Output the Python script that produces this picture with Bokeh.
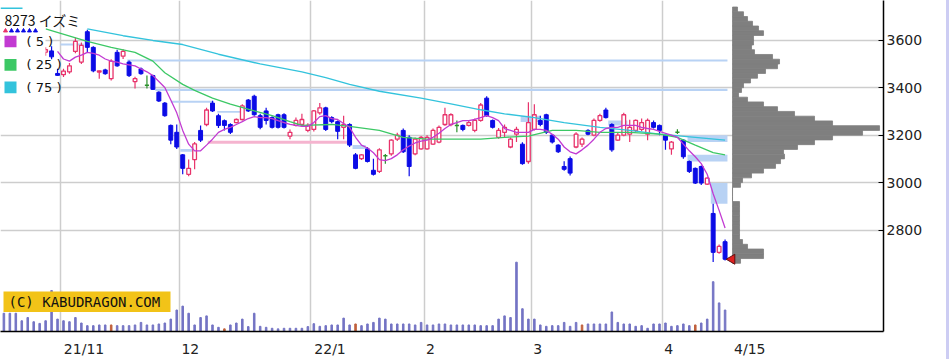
import math
from bokeh.plotting import figure
from bokeh.models import Range1d, FixedTicker, CustomJSTickFormatter
from bokeh.embed import file_html
from bokeh.resources import INLINE
from bokeh.core.properties import value

# ---------------- data ----------------
trading_days = [
    (2021, 10, [18, 19, 20, 21, 22, 25, 26, 27, 28, 29]),
    (2021, 11, [1, 2, 4, 5, 8, 9, 10, 11, 12, 15, 16, 17, 18, 19, 22, 24, 25, 26, 29, 30]),
    (2021, 12, [1, 2, 3, 6, 7, 8, 9, 10, 13, 14, 15, 16, 17, 20, 21, 22, 23, 24, 27, 28, 29, 30]),
    (2022, 1, [4, 5, 6, 7, 11, 12, 13, 14, 17, 18, 19, 20, 21, 24, 25, 26, 27, 28, 31]),
    (2022, 2, [1, 2, 3, 4, 7, 8, 9, 10, 14, 15, 16, 17, 18, 21, 22, 24, 25, 28]),
    (2022, 3, [1, 2, 3, 4, 7, 8, 9, 10, 11, 14, 15, 16, 17, 18, 22, 23, 24, 25, 28, 29, 30, 31]),
    (2022, 4, [1, 4, 5, 6, 7, 8, 11, 12, 13, 14, 15]),
]

opens = [3600, 3590, 3575, 3580, 3600, 3560, 3545, 3550, 3555, 3460,
         3455, 3467, 3553, 3508, 3636, 3570, 3466, 3475, 3438, 3549,
         3533, 3508, 3426, 3479, 3410, 3451, 3381, 3335, 3241, 3212,
         3117, 3035, 3097, 3220, 3245, 3335, 3282, 3261, 3245, 3253,
         3266, 3348, 3364, 3282, 3302, 3274, 3286, 3286, 3196, 3241,
         3245, 3220, 3224, 3294, 3315, 3274, 3257, 3233, 3245, 3117,
         3101, 3142, 3052, 3047, 3113, 3121, 3183, 3220, 3191, 3121,
         3142, 3142, 3162, 3171, 3245, 3245, 3241, 3241, 3241, 3220,
         3262, 3356, 3262, 3191, 3212, 3150, 3204, 3162, 3089, 3224,
         3262, 3286, 3200, 3158, 3068, 3101, 3150, 3162, 3220, 3200,
         3262, 3306, 3245, 3179, 3200, 3204, 3220, 3224, 3204, 3253,
         3241, 3200, 3142, 3212, 3179, 3089, 3060, 3068, 2994, 2870,
         2706, 2751]
highs = [3630, 3610, 3600, 3620, 3610, 3580, 3575, 3570, 3575, 3480,
         3480, 3504, 3612, 3590, 3644, 3575, 3473, 3480, 3520, 3560,
         3562, 3515, 3446, 3485, 3451, 3455, 3385, 3340, 3245, 3245,
         3121, 3097, 3171, 3241, 3315, 3345, 3290, 3266, 3250, 3270,
         3330, 3352, 3370, 3290, 3315, 3280, 3290, 3292, 3224, 3274,
         3290, 3250, 3306, 3335, 3320, 3280, 3262, 3282, 3250, 3125,
         3121, 3150, 3101, 3145, 3121, 3183, 3210, 3228, 3200, 3190,
         3196, 3200, 3228, 3241, 3315, 3292, 3262, 3245, 3262, 3270,
         3335, 3364, 3266, 3230, 3245, 3190, 3235, 3170, 3339, 3330,
         3282, 3290, 3205, 3162, 3090, 3110, 3212, 3190, 3225, 3270,
         3290, 3315, 3250, 3210, 3294, 3265, 3266, 3270, 3270, 3262,
         3245, 3205, 3175, 3225, 3183, 3093, 3064, 3072, 3023, 2911,
         2739, 2760]
lows = [3580, 3560, 3550, 3570, 3560, 3530, 3530, 3535, 3520, 3450,
        3445, 3459, 3545, 3500, 3550, 3465, 3438, 3455, 3430, 3488,
        3521, 3445, 3397, 3455, 3397, 3390, 3340, 3278, 3162, 3142,
        3035, 3027, 3056, 3171, 3238, 3298, 3230, 3220, 3205, 3250,
        3262, 3298, 3282, 3225, 3245, 3228, 3228, 3228, 3183, 3236,
        3240, 3212, 3215, 3286, 3218, 3250, 3183, 3183, 3150, 3056,
        3095, 3085, 3030, 3040, 3080, 3113, 3175, 3125, 3027, 3115,
        3138, 3138, 3158, 3166, 3240, 3238, 3212, 3216, 3236, 3212,
        3257, 3278, 3228, 3185, 3191, 3145, 3171, 3075, 3080, 3220,
        3238, 3205, 3165, 3125, 3050, 3030, 3145, 3150, 3200, 3195,
        3257, 3270, 3130, 3175, 3195, 3171, 3212, 3216, 3179, 3228,
        3200, 3138, 3117, 3205, 3101, 3040, 2994, 2990, 2990, 2665,
        2700, 2672]
closes = [3590, 3570, 3585, 3605, 3565, 3545, 3560, 3560, 3530, 3452,
          3470, 3492, 3595, 3578, 3570, 3471, 3471, 3459, 3512, 3492,
          3553, 3451, 3438, 3459, 3410, 3393, 3344, 3282, 3179, 3150,
          3060, 3060, 3163, 3179, 3306, 3302, 3241, 3241, 3212, 3266,
          3323, 3302, 3286, 3233, 3262, 3233, 3233, 3233, 3212, 3262,
          3266, 3241, 3302, 3315, 3224, 3257, 3216, 3245, 3158, 3060,
          3117, 3089, 3035, 3138, 3113, 3179, 3200, 3130, 3068, 3183,
          3191, 3191, 3220, 3233, 3286, 3286, 3241, 3224, 3253, 3262,
          3327, 3282, 3233, 3220, 3233, 3183, 3224, 3080, 3253, 3286,
          3245, 3212, 3171, 3130, 3056, 3040, 3204, 3183, 3204, 3262,
          3282, 3274, 3138, 3200, 3286, 3233, 3262, 3253, 3262, 3233,
          3220, 3179, 3171, 3212, 3109, 3047, 2998, 2998, 3019, 2706,
          2731, 2677]
# daily volume, thousand shares
volumes = [187, 187, 187, 110, 143, 100, 83, 110, 420, 127,
           110, 100, 143, 87, 60, 60, 67, 67, 67, 60,
           60, 60, 67, 93, 67, 67, 77, 87, 127, 220,
           260, 187, 67, 143, 160, 67, 43, 27, 67, 87,
           127, 50, 187, 53, 43, 33, 27, 33, 33, 33,
           33, 50, 80, 53, 60, 67, 67, 137, 67, 77,
           60, 77, 93, 137, 127, 77, 77, 77, 77, 67,
           93, 67, 67, 77, 77, 67, 67, 67, 67, 67,
           60, 60, 60, 127, 160, 143, 710, 233, 127, 127,
           67, 53, 60, 60, 93, 53, 93, 67, 77, 77,
           77, 77, 200, 93, 77, 77, 53, 60, 33, 77,
           77, 87, 53, 60, 77, 60, 67, 87, 127, 510,
           293, 220]
vol_red_days = [18, 37, 59, 97, 116]

# moving averages (day index, price)
ma5_idx = list(range(9, 122))
ma5 = [3553, 3521, 3512, 3529, 3537, 3549, 3545, 3537, 3521, 3512,
       3508, 3500, 3496, 3492, 3479, 3467, 3451, 3426, 3401, 3348,
       3294, 3220, 3162, 3134, 3134, 3158, 3183, 3212, 3224, 3233,
       3245, 3257, 3270, 3278, 3274, 3274, 3270, 3261, 3253, 3245,
       3241, 3237, 3237, 3253, 3278, 3282, 3270, 3266, 3249, 3233,
       3191, 3158, 3146, 3126, 3097, 3093, 3101, 3117, 3138, 3154,
       3167, 3175, 3179, 3191, 3208, 3228, 3245, 3253, 3261, 3261,
       3266, 3274, 3282, 3274, 3261, 3228, 3220, 3212, 3212, 3212,
       3224, 3224, 3220, 3204, 3183, 3150, 3130, 3121, 3138, 3158,
       3183, 3212, 3228, 3233, 3233, 3241, 3241, 3241, 3233, 3228,
       3224, 3216, 3208, 3200, 3191, 3162, 3134, 3109, 3080, 3035,
       2953, 2883, 2809]
ma25_idx = [7, 14, 18, 22, 25, 27, 30, 32, 35, 38, 42, 45, 48, 50, 55, 58, 63, 67,
            71, 77, 80, 84, 88, 92, 96, 100, 105, 110, 113, 116, 119, 121]
ma25 = [3648, 3595, 3570, 3549, 3512, 3463, 3414, 3389, 3356, 3331, 3302, 3282,
        3257, 3241, 3245, 3237, 3220, 3191, 3183, 3183, 3183, 3191, 3196, 3220,
        3220, 3212, 3212, 3204, 3191, 3158, 3126, 3117]
ma75_idx = [14, 20, 25, 30, 36, 43, 50, 54, 58, 63, 70, 75, 80, 84, 89, 94, 100,
            105, 110, 116, 121]
ma75 = [3648, 3619, 3599, 3582, 3541, 3500, 3467, 3442, 3414, 3385, 3356, 3332,
        3307, 3290, 3274, 3253, 3233, 3220, 3204, 3191, 3179]

# price gaps (windows): start index, end index, low, high
win_start = [9.5, 20.7, 25.4, 28.0, 35.8, 29.6, 58.5, 86.7, 101.4, 114.7, 114.7, 118.6]
win_end = [13.4, 121.4, 121.4, 35.2, 40.2, 31.8, 60.7, 90.1, 104.6, 121.4, 121.4, 121.4]
win_low = [3578, 3510, 3386, 3337, 3294, 3130, 3142, 3255, 3241, 3171, 3089, 2911]
win_high = [3586, 3519, 3396, 3345, 3302, 3142, 3158, 3282, 3262, 3200, 3117, 2998]
pink_start, pink_end, pink_low, pink_high = [34.2], [57.7], [3164], [3176]

# volume by price (thousand shares), 20-yen bins
profile_price = list(range(2670, 3750, 20))
profile_vol = [480, 1860, 1860, 900, 600, 420, 420, 420, 420, 420,
               420, 420, 420, 0, 0, 0, 480, 600, 1140, 1860,
               2580, 2880, 3120, 3060, 3900, 4920, 6000, 7800, 8820, 6000,
               4920, 3720, 2700, 1860, 900, 360, 540, 660, 1080, 1500,
               1980, 2700, 2820, 2400, 1320, 1140, 1260, 1260, 1860, 1560,
               1200, 900, 660, 300]

price_ticks = [2800, 3000, 3200, 3400, 3600]
title_text = "8273 イズミ"
ma_labels = ["( 5 )", "( 25 )", "( 75 )"]
credit = "(C) KABUDRAGON.COM"

# ---------------- layout constants ----------------
W, H = 949, 359
FW, FH = 883, 339                     # frame size in px
X0, X1 = -0.57, 147.58
Y0, Y1 = 2372.5, 3767.5


def px_x(px):
    return X0 + px * (X1 - X0) / FW


def px_y(py):
    return Y1 - py * (Y1 - Y0) / FH


UP = "#e8336b"
DOWN = "#0b0be6"
DOJI = "#2a902a"
C5 = "#c23ad2"
C25 = "#3cc865"
C75 = "#33c3dc"
VOL = "#7474c4"
VOLR = "#c0603c"
WIN = "#b8d2f4"
PINK = "#f5b4cf"
PROF = "#7f7f7f"
GRID = "#cdcdcd"

dates = []
for (yy, mm, days) in trading_days:
    for d in days:
        dates.append((yy, mm, d))
n = len(dates)
idx = list(range(n))

p = figure(width=W, height=H, x_range=Range1d(X0, X1), y_range=Range1d(Y0, Y1),
           output_backend="svg", toolbar_location=None, y_axis_location="right",
           min_border_left=0, min_border_top=0, min_border_right=W - FW,
           min_border_bottom=H - FH, background_fill_color="white",
           border_fill_color="white", outline_line_color=None)
p.styles = {"border-right": "3px solid #cdcdf3"}
p.extra_y_ranges = {"vol": Range1d(0, FH * 10)}

# grids
month_grid = []
labels_pos, labels_txt = [], []
for i in range(1, n):
    if dates[i][1] != dates[i - 1][1]:
        month_grid.append(i - 0.5)
        yy, mm, _ = dates[i]
        txt = f"{yy % 100}/{mm}" if (mm == 1 or not labels_txt) else f"{mm}"
        labels_txt.append(txt)
        labels_pos.append(i - 0.5 + (2 + 4.3 * len(txt)) / 5.96)
last_txt = f"{dates[-1][1]}/{dates[-1][2]}"
labels_txt.append(last_txt)
labels_pos.append(n - 1 + 0.75 + (3 + 4.3 * len(last_txt)) / 5.96)

p.xgrid.ticker = FixedTicker(ticks=month_grid)
p.ygrid.ticker = FixedTicker(ticks=price_ticks)
for g in (p.xgrid, p.ygrid):
    g.grid_line_color = GRID
    g.grid_line_width = 1.5

# x axis
xa = p.xaxis[0]
xa.ticker = FixedTicker(ticks=labels_pos)
xa.formatter = CustomJSTickFormatter(args=dict(pos=labels_pos, txt=labels_txt), code="""
let b = 0, d = 1e9;
for (let k = 0; k < pos.length; k++) { const dd = Math.abs(pos[k] - tick); if (dd < d) { d = dd; b = k; } }
return txt[b];
""")
xa.major_tick_line_color = None
xa.minor_tick_line_color = None
xa.axis_line_color = "black"
xa.axis_line_width = 1.5
xa.major_label_text_font = "DejaVu Sans"
xa.major_label_text_font_size = "14px"
xa.major_label_text_color = "#222222"
xa.major_label_standoff = 3

ya = p.yaxis[0]
ya.ticker = FixedTicker(ticks=price_ticks)
ya.major_tick_in = 5
ya.major_tick_out = 0
ya.major_tick_line_color = "black"
ya.minor_tick_line_color = None
ya.axis_line_color = "black"
ya.axis_line_width = 1.5
ya.major_label_text_font = "DejaVu Sans"
ya.major_label_text_font_size = "14px"
ya.major_label_text_color = "#222222"
ya.major_label_standoff = 3

# gap windows
p.quad(left=win_start, right=win_end, bottom=win_low, top=win_high,
       fill_color=WIN, line_color=None)
p.quad(left=pink_start, right=pink_end, bottom=pink_low, top=pink_high,
       fill_color=PINK, line_color=None)

# volume
vcol = [VOLR if i in vol_red_days else VOL for i in idx]
p.vbar(x=idx, top=volumes, bottom=0, width=0.26, color=vcol, y_range_name="vol")

# volume profile
pl = n + 0.25
scale = 1.0 / (60 * 5.96)
p.hbar(y=profile_price, height=20, left=pl,
       right=[pl + v * scale for v in profile_vol], fill_color=PROF,
       line_color=PROF, line_width=0.8)

# candles
up = [i for i in idx if closes[i] > opens[i]]
dn = [i for i in idx if closes[i] < opens[i]]
dj = [i for i in idx if closes[i] == opens[i]]
wcol = [UP if closes[i] > opens[i] else (DOWN if closes[i] < opens[i] else DOJI) for i in idx]
p.segment(x0=idx, y0=lows, x1=idx, y1=highs, line_color=wcol, line_width=1.2)
p.vbar(x=dn, width=0.66, top=[opens[i] for i in dn], bottom=[closes[i] for i in dn],
       fill_color=DOWN, line_color=DOWN, line_width=1)
p.vbar(x=up, width=0.62, top=[closes[i] for i in up], bottom=[opens[i] for i in up],
       fill_color="white", line_color=UP, line_width=1.3)
p.segment(x0=[i - 0.35 for i in dj], y0=[opens[i] for i in dj],
          x1=[i + 0.35 for i in dj], y1=[opens[i] for i in dj], line_color=DOJI, line_width=1.5)

# moving averages
p.line(ma75_idx, ma75, line_color=C75, line_width=1.3)
p.line(ma25_idx, ma25, line_color=C25, line_width=1.3)
p.line(ma5_idx, ma5, line_color=C5, line_width=1.3)

# last price marker
p.scatter(x=[n - 1 + 1.15], y=[closes[-1]], marker="triangle", angle=math.pi / 2,
          size=10, fill_color="#e02020", line_color="#601010", line_width=1)

# legend block
p.quad(left=[px_x(0)], right=[px_x(45)], top=[px_y(0)], bottom=[px_y(97)],
       fill_color="white", line_color=None)
p.segment(x0=[px_x(0)], y0=[px_y(8)], x1=[px_x(22)], y1=[px_y(8)], line_color=C75, line_width=1.5)
p.text(x=[px_x(4)], y=[px_y(20)], text=[title_text], text_font=value("Noto Sans CJK JP"),
       text_font_size="14px", text_baseline="middle", text_align="left", text_color="#111111")
p.scatter(x=[px_x(5 + 6 * k) for k in range(6)], y=[px_y(31)] * 6, marker="triangle", size=4,
          color=[UP, DOWN, DOWN, DOWN, DOWN, DOWN])
sq_y = [42, 66, 89]
for c, yy, t in zip([C5, C25, C75], sq_y, ma_labels):
    p.quad(left=[px_x(4)], right=[px_x(16)], top=[px_y(yy - 6)], bottom=[px_y(yy + 6)],
           fill_color=c, line_color=None)
    p.text(x=[px_x(26)], y=[px_y(yy)], text=[t], text_font=value("DejaVu Sans"),
           text_font_size="13px", text_baseline="middle", text_align="left", text_color="#111111")

# credit label
p.quad(left=[px_x(3)], right=[px_x(170)], top=[px_y(298)], bottom=[px_y(319)],
       fill_color="#f2c318", line_color=None)
p.text(x=[px_x(8)], y=[px_y(308.5)], text=[credit], text_font=value("DejaVu Sans Mono"),
       text_font_size="14px", text_baseline="middle", text_align="left", text_color="#111111")

open("out.html", "w").write(file_html(p, INLINE))
